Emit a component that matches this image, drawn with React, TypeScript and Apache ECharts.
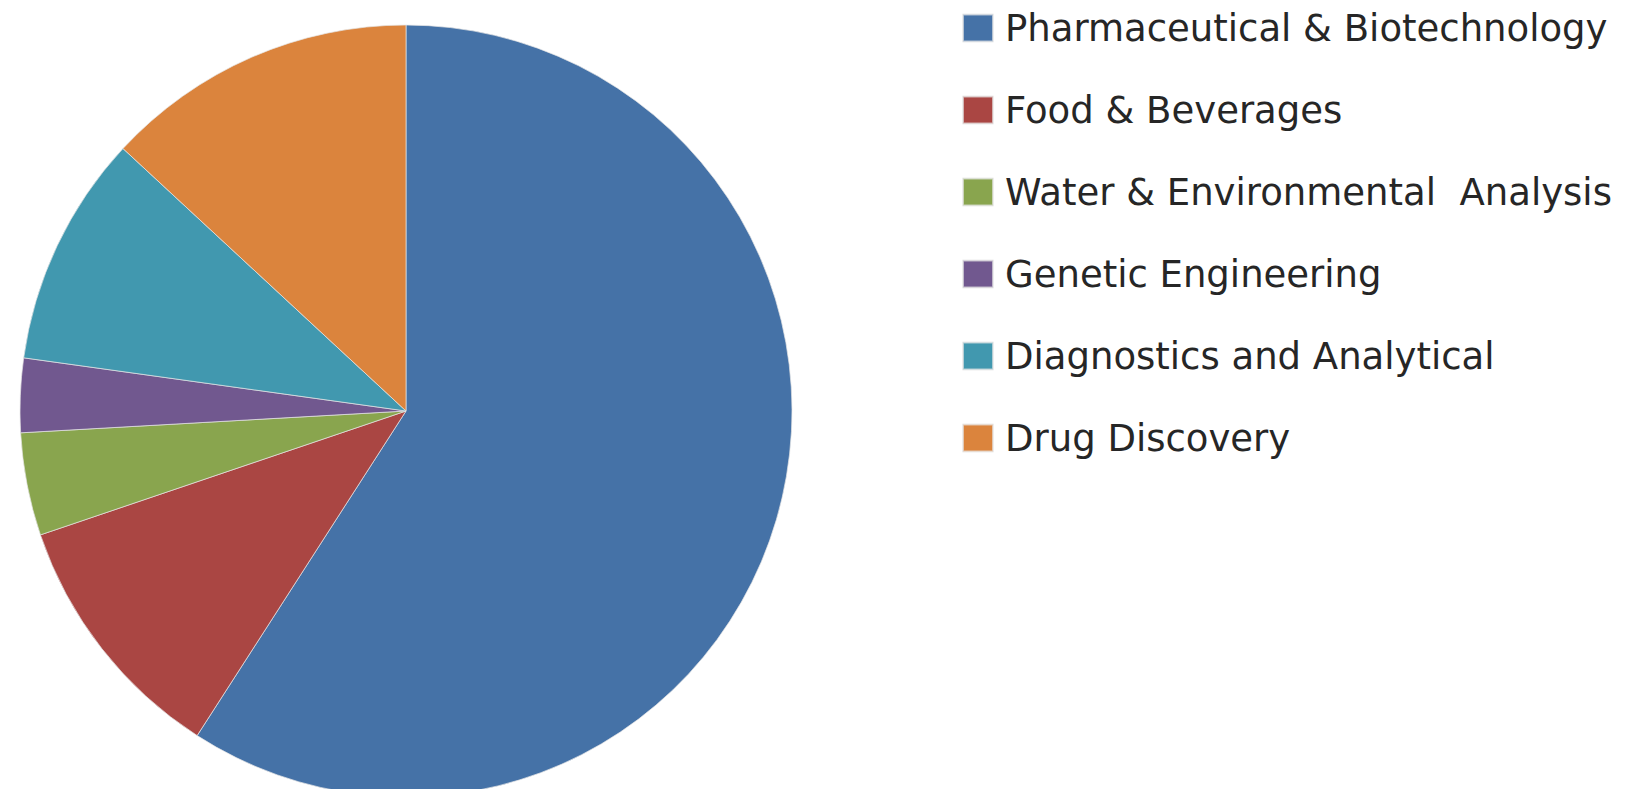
import React, { useEffect, useRef } from "react";
import * as echarts from "echarts";

const categories = [
  "Pharmaceutical & Biotechnology",
  "Food & Beverages",
  "Water & Environmental  Analysis",
  "Genetic Engineering",
  "Diagnostics and Analytical",
  "Drug Discovery",
];
const shares = [59.1, 10.7, 4.3, 3.1, 9.7, 13.1];
const colors = ["#4572A7", "#AA4643", "#89A54E", "#71588F", "#4198AF", "#DB843D"];

export default function App() {
  const ref = useRef<HTMLDivElement>(null);
  useEffect(() => {
    if (!ref.current) return;
    const chart = echarts.init(ref.current, undefined, { renderer: "svg" });
    chart.setOption({
      animation: false,
      backgroundColor: "#ffffff",
      color: colors,
      legend: {
        orient: "vertical",
        left: 957,
        top: 2,
        itemWidth: 30,
        itemHeight: 27,
        itemGap: 40,
        icon: "rect",
        selectedMode: false,
        textStyle: {
          fontFamily: "DejaVu Sans",
          fontSize: 37,
          lineHeight: 42,
          color: "#262626",
          padding: [0, 0, 0, 7],
        },
        data: categories,
      },
      series: [
        {
          type: "pie",
          center: [406, 411],
          radius: 386,
          startAngle: 90,
          clockwise: true,
          label: { show: false },
          labelLine: { show: false },
          emphasis: { disabled: true },
          itemStyle: { borderColor: "rgba(230,230,230,0.7)", borderWidth: 1 },
          data: categories.map((name, i) => ({ name, value: shares[i] })),
        },
      ],
    });
    return () => chart.dispose();
  }, []);
  return (
    <div
      ref={ref}
      style={{ position: "fixed", left: 0, top: 0, width: 1644, height: 789 }}
    />
  );
}
